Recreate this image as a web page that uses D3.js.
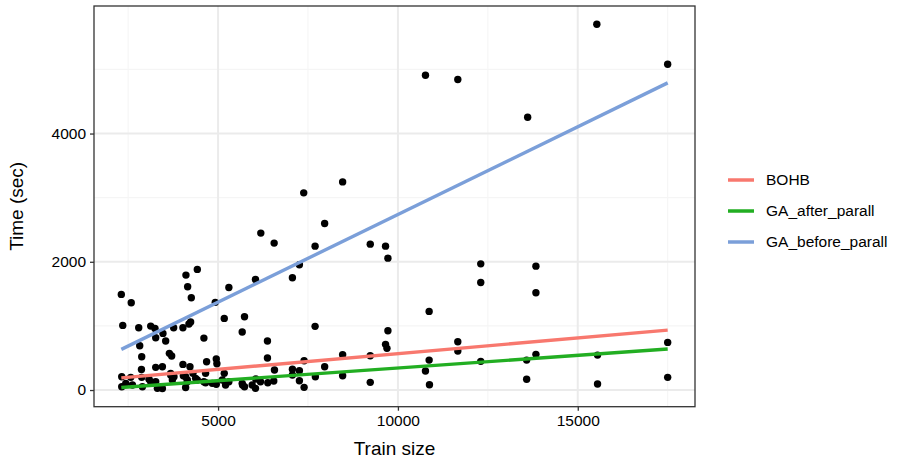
<!DOCTYPE html>
<html>
<head>
<meta charset="utf-8">
<script src="https://cdn.jsdelivr.net/npm/d3@7"></script>
<style>
  body { margin: 0; background: #fff; }
  svg { display: block; font-family: "Liberation Sans", Arial, sans-serif; }
</style>
</head>
<body>
<svg id="chart" width="898" height="459"></svg>
<script>
// ---- data ----
const trainSize = [
  15530, 17500, 10766, 11665, 13607, 7381, 8463,
  2310, 2586, 2350, 2794, 3127, 3246, 2822, 2877, 2870, 3266,
  3468, 3543, 3646, 3710, 4107, 4154, 4256, 4423, 4023, 4190, 4237, 3765,
  4606, 4922, 5300, 5172, 5735, 5671, 6040, 6188, 6559, 7067, 7261, 7697,
  7963, 9231, 9656, 9722, 9722, 9656, 9695, 7697, 6373, 6373, 6568, 7067,
  7261, 7067, 7261, 7392, 7392, 7705, 7963, 8463, 8463, 9231, 9231, 4681,
  4950, 4967, 4023, 4218, 3266, 3452, 5172, 6049, 6040, 5680, 5735, 6382,
  2322, 2322, 2572, 2619, 2877, 2897, 3080, 3266, 3313, 3452, 3682, 3729,
  4098, 4145, 4098, 4301, 4839, 5117, 5208, 5300, 5671, 5949, 6179, 6548,
  4376, 4606, 4653, 2434, 3127, 4653, 4950, 3682, 3774, 4034, 4145, 4423,
  10868, 10868, 10766, 10877, 11665, 11665, 12303, 12303, 12303, 13579, 13579,
  13837, 13837, 13837, 15550, 15550, 17500, 17500
];
const timeSec = [
  5705, 5080, 4909, 4842, 4254, 3075, 3246,
  1491, 1361, 1008, 971, 997, 961, 690, 519, 320, 815,
  883, 764, 572, 530, 1792, 1610, 1438, 1881, 971, 1029, 1060, 971,
  810, 1367, 1600, 1117, 1143, 904, 1725, 2447, 2291, 1750, 1953, 2244,
  2598, 2275, 2244, 2057, 924, 712, 650, 993, 764, 499, 312, 323,
  301, 234, 145, 42, 457, 207, 363, 550, 223, 535, 120, 441,
  483, 410, 400, 363, 354, 363, 260, 171, 26, 78, 51, 114,
  207, 51, 198, 78, 198, 51, 167, 129, 26, 24, 234, 156,
  207, 129, 40, 260, 104, 156, 78, 129, 104, 78, 129, 140,
  182, 129, 260, 104, 129, 114, 89, 260, 207, 223, 156, 156,
  1226, 467, 296, 83, 753, 608, 1968, 1678, 447, 467, 167,
  1932, 1516, 556, 545, 94, 743, 198
];

// linear-trend endpoints per method
const methods   = ["BOHB", "GA_after_parall", "GA_before_parall"];
const fitX0     = [2310, 2310, 2310];
const fitY0     = [190, 40, 634];
const fitX1     = [17500, 17500, 17500];
const fitY1     = [935, 639, 4790];
const colors    = ["#F8786E", "#22AE22", "#7B9FD9"];

const xTicks = [5000, 10000, 15000];
const xMinor = [2500, 7500, 12500, 17500];
const yTicks = [0, 2000, 4000];
const yMinor = [1000, 3000, 5000];

// ---- layout ----
const svg = d3.select("#chart");
const P = { left: 94, right: 695, top: 6, bottom: 406.7 };

function expand(ext) { const r = ext[1] - ext[0]; return [ext[0] - 0.05 * r, ext[1] + 0.05 * r]; }

const x = d3.scaleLinear().domain(expand(d3.extent(trainSize))).range([P.left, P.right]);
const y = d3.scaleLinear().domain(expand(d3.extent(timeSec))).range([P.bottom, P.top]);

// panel background
svg.append("rect").attr("x", P.left).attr("y", P.top)
  .attr("width", P.right - P.left).attr("height", P.bottom - P.top).attr("fill", "#fff");

const grid = svg.append("g");
// minor grid
grid.selectAll(".vmin").data(xMinor).join("line")
  .attr("x1", d => x(d)).attr("x2", d => x(d)).attr("y1", P.top).attr("y2", P.bottom)
  .attr("stroke", "#F5F5F5").attr("stroke-width", 1.1);
grid.selectAll(".hmin").data(yMinor).join("line")
  .attr("y1", d => y(d)).attr("y2", d => y(d)).attr("x1", P.left).attr("x2", P.right)
  .attr("stroke", "#F5F5F5").attr("stroke-width", 1.1);
// major grid
grid.selectAll(".vmaj").data(xTicks).join("line")
  .attr("x1", d => x(d)).attr("x2", d => x(d)).attr("y1", P.top).attr("y2", P.bottom)
  .attr("stroke", "#EBEBEB").attr("stroke-width", 2);
grid.selectAll(".hmaj").data(yTicks).join("line")
  .attr("y1", d => y(d)).attr("y2", d => y(d)).attr("x1", P.left).attr("x2", P.right)
  .attr("stroke", "#EBEBEB").attr("stroke-width", 2);

// points
svg.append("g").selectAll("circle").data(trainSize.map((d, i) => [d, timeSec[i]])).join("circle")
  .attr("cx", d => x(d[0])).attr("cy", d => y(d[1])).attr("r", 3.7).attr("fill", "#000");

// trend lines
svg.append("g").selectAll("line").data(methods.map((m, i) => i)).join("line")
  .attr("x1", i => x(fitX0[i])).attr("y1", i => y(fitY0[i]))
  .attr("x2", i => x(fitX1[i])).attr("y2", i => y(fitY1[i]))
  .attr("stroke", i => colors[i]).attr("stroke-width", 3.4);

// panel border
svg.append("rect").attr("x", P.left).attr("y", P.top)
  .attr("width", P.right - P.left).attr("height", P.bottom - P.top)
  .attr("fill", "none").attr("stroke", "#333333").attr("stroke-width", 1.3);

// axes
const xAxis = svg.append("g").attr("transform", `translate(0,${P.bottom})`)
  .call(d3.axisBottom(x).tickValues(xTicks).tickFormat(d3.format("d")).tickSize(4).tickPadding(4));
const yAxis = svg.append("g").attr("transform", `translate(${P.left},0)`)
  .call(d3.axisLeft(y).tickValues(yTicks).tickFormat(d3.format("d")).tickSize(4).tickPadding(4));
[xAxis, yAxis].forEach(a => {
  a.select(".domain").remove();
  a.selectAll(".tick line").attr("stroke", "#333333").attr("stroke-width", 1.3);
  a.selectAll(".tick text").attr("fill", "#000").style("font-size", "15.5px")
    .style("font-family", "'Liberation Sans', Arial, sans-serif");
});

// axis titles
svg.append("text").attr("x", (P.left + P.right) / 2).attr("y", 455)
  .attr("text-anchor", "middle").style("font-size", "19px").attr("fill", "#000").text("Train size");
svg.append("text").attr("transform", `translate(23,${(P.top + P.bottom) / 2}) rotate(-90)`)
  .attr("text-anchor", "middle").style("font-size", "19px").attr("fill", "#000").text("Time (sec)");

// legend
const lg = svg.append("g").attr("transform", "translate(728,180)");
const items = lg.selectAll("g").data(methods).join("g")
  .attr("transform", (d, i) => `translate(0,${i * 31})`);
items.append("line").attr("x1", 0).attr("x2", 26).attr("y1", 0).attr("y2", 0)
  .attr("stroke", (d, i) => colors[i]).attr("stroke-width", 3.5);
items.append("text").attr("x", 38).attr("y", 0).attr("dy", "0.35em")
  .style("font-size", "15.5px").attr("fill", "#000").text(d => d);
</script>
</body>
</html>
